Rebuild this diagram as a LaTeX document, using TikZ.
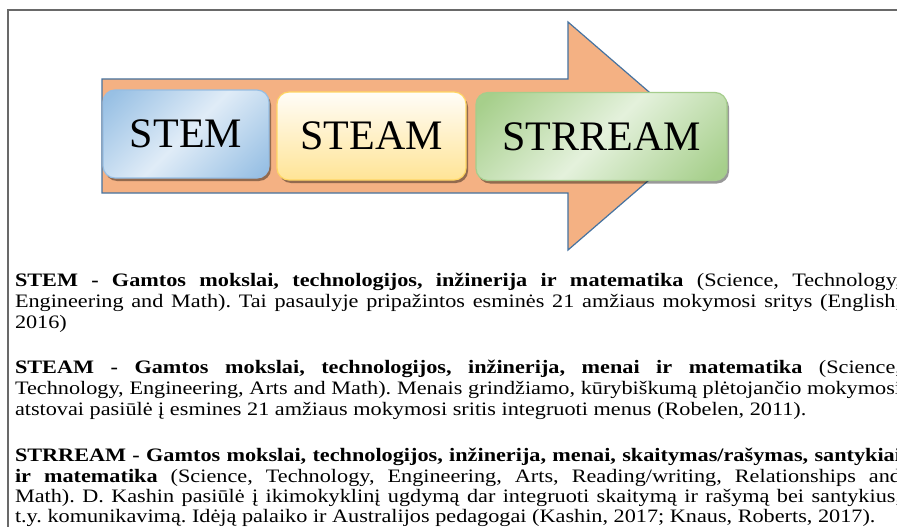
\documentclass[tikz,border=0pt]{standalone}
\usepackage{fontspec}
\setmainfont{Liberation Serif}[FakeStretch=1.17]
\newfontfamily\titlefont{Liberation Serif}
\usetikzlibrary{shadows}
\frenchspacing
\definecolor{frameC}{RGB}{105,105,105}
\definecolor{arrowFill}{RGB}{244,177,131}
\definecolor{arrowLine}{RGB}{70,115,160}
\definecolor{bdark}{RGB}{152,192,228}
\definecolor{blight}{RGB}{224,236,247}
\definecolor{bborder}{RGB}{150,190,228}
\definecolor{ytop}{RGB}{255,253,248}
\definecolor{ybottom}{RGB}{255,228,150}
\definecolor{yborder}{RGB}{255,214,100}
\definecolor{gdark}{RGB}{166,207,139}
\definecolor{glight}{RGB}{228,241,220}
\definecolor{gborder}{RGB}{165,205,140}
\pgfdeclarehorizontalshading{bluediag}{100bp}{color(0bp)=(bdark); color(18bp)=(bdark); color(50bp)=(blight); color(82bp)=(bdark); color(100bp)=(bdark)}
\pgfdeclarehorizontalshading{greendiag}{100bp}{color(0bp)=(gdark); color(18bp)=(gdark); color(50bp)=(glight); color(82bp)=(gdark); color(100bp)=(gdark)}
\newcommand\bodyfont{\fontsize{19}{20}\selectfont}
\tikzset{
  titlebox/.style={rounded corners=12pt, line width=1.2pt, minimum height=88pt,
    font=\titlefont\fontsize{42}{46}\selectfont,
    drop shadow={shadow xshift=2pt, shadow yshift=-3pt, fill=black, opacity=0.4}},
  bluebox/.style={titlebox, draw=bborder, shade, shading=bluediag, shading angle=-45},
  yellowbox/.style={titlebox, draw=yborder, top color=ytop, bottom color=ybottom},
  greenbox/.style={titlebox, draw=gborder, shade, shading=greendiag, shading angle=-45},
  bigarrow/.style={fill=arrowFill, draw=arrowLine, line width=1.2pt, line join=miter},
  txt/.style={anchor=base west, font=\bodyfont, inner sep=0pt, outer sep=0pt}
}
\begin{document}
\begin{tikzpicture}[x=1pt,y=-1pt]
\useasboundingbox (0,0) rectangle (897,527);
\fill[white] (0,0) rectangle (897,527);
\draw[frameC, line width=1.5pt] (8,540) -- (8,10) -- (905,10);
% big arrow
\draw[bigarrow] (102,79) -- (568,79) -- (568,22) -- (700,136) -- (568,250) -- (568,193) -- (102,193) -- cycle;
% boxes
\node[bluebox, minimum width=166pt] (stem) at (186,134) {STEM};
\node[yellowbox, minimum width=189pt] (steam) at (371.5,136) {STEAM};
\node[greenbox, minimum width=251pt] (strream) at (601.5,136.5) {STRREAM};
% text
\node[txt] (p1a) at (15,286) {\makebox[886pt][s]{\textbf{STEM - Gamtos mokslai, technologijos, inžinerija ir matematika} (Science, Technology,}};
\node[txt] (p1b) at (15,307) {\makebox[886pt][s]{Engineering and Math). Tai pasaulyje pripažintos esminės 21 amžiaus mokymosi sritys (English,}};
\node[txt] (p1c) at (15,328) {2016)};
\node[txt] (p2a) at (15,373) {\makebox[886pt][s]{\textbf{STEAM - Gamtos mokslai, technologijos, inžinerija, menai ir matematika} (Science,}};
\node[txt] (p2b) at (15,394) {\makebox[886pt][s]{Technology, Engineering, Arts and Math). Menais grindžiamo, kūrybiškumą plėtojančio mokymosi}};
\node[txt] (p2c) at (15,415) {atstovai pasiūlė į esmines 21 amžiaus mokymosi sritis integruoti menus (Robelen, 2011).};
\node[txt] (p3a) at (15,461) {\makebox[886pt][s]{\textbf{STRREAM - Gamtos mokslai, technologijos, inžinerija, menai, skaitymas/rašymas, santykiai}}};
\node[txt] (p3b) at (15,482) {\makebox[886pt][s]{\textbf{ir matematika} (Science, Technology, Engineering, Arts, Reading/writing, Relationships and}};
\node[txt] (p3c) at (15,502) {\makebox[886pt][s]{Math). D. Kashin pasiūlė į ikimokyklinį ugdymą dar integruoti skaitymą ir rašymą bei santykius,}};
\node[txt] (p3d) at (15,522) {t.y. komunikavimą. Idėją palaiko ir Australijos pedagogai (Kashin, 2017; Knaus, Roberts, 2017).};
\end{tikzpicture}
\end{document}
